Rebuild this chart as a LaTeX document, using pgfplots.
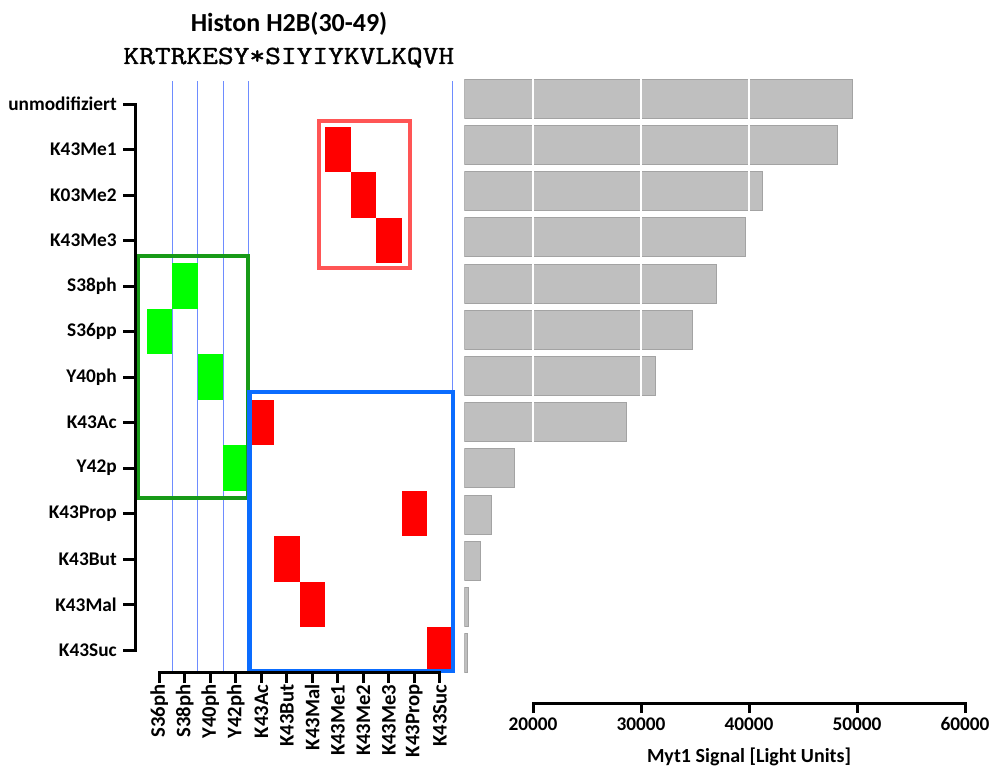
\documentclass[border=0pt]{standalone}
\usepackage{fontspec}
\setmainfont{Carlito}
\newfontfamily\seqfont[FakeBold=1.3]{Latin Modern Mono}
\usepackage{pgfplots}
\pgfplotsset{compat=1.18}
\definecolor{cellred}{RGB}{255,0,0}
\definecolor{cellgreen}{RGB}{0,255,0}
\definecolor{boxred}{RGB}{255,85,85}
\definecolor{boxgreen}{RGB}{24,154,24}
\definecolor{boxblue}{RGB}{10,108,255}
\definecolor{gridblue}{RGB}{110,140,255}
\definecolor{barfill}{RGB}{191,191,191}
\definecolor{baredge}{RGB}{163,163,163}
\newcommand\ylblfont{\fontsize{14.5}{17}\selectfont\bfseries}
\newcommand\xlblfont{\fontsize{15.5}{17}\selectfont\bfseries}

\begin{document}
\begin{tikzpicture}
\useasboundingbox (0pt,0pt) rectangle (744pt,-575.25pt);

\node[font=\fontsize{19.5}{22}\selectfont\bfseries, anchor=base] at (216.75pt,-24pt) {Histon H2B(30-49)};
\node[anchor=base, inner sep=0pt] at (216.6pt,-48pt) {\scalebox{1.17}[1]{\fontsize{19.6}{22}\selectfont\seqfont KRTRKESY*SIYIYKVLKQVH}};

% ---- heatmap cells and boxes
\begin{axis}[at={(100.35pt,-43.875pt)}, anchor=north west,
  scale only axis, width=248.625pt, height=477.75pt,
  xmin=-1, xmax=12, ymin=-1, ymax=13, y dir=reverse,
  hide axis, clip=false]
\addplot[gridblue, line width=0.75pt] coordinates {(0.5,-0.5) (0.5,12.46)};
\addplot[gridblue, line width=0.75pt] coordinates {(1.5,-0.5) (1.5,12.46)};
\addplot[gridblue, line width=0.75pt] coordinates {(2.5,-0.5) (2.5,12.46)};
\addplot[gridblue, line width=0.75pt] coordinates {(3.5,-0.5) (3.5,12.46)};
\addplot[gridblue, line width=0.75pt] coordinates {(11.5,-0.5) (11.5,12.46)};
% cells: column, row
\addplot[fill=cellred, draw=none] coordinates {(6.5,0.5) (7.5,0.5) (7.5,1.5) (6.5,1.5)} -- cycle;   % K43Me1
\addplot[fill=cellred, draw=none] coordinates {(7.5,1.5) (8.5,1.5) (8.5,2.5) (7.5,2.5)} -- cycle;   % K43Me2
\addplot[fill=cellred, draw=none] coordinates {(8.5,2.5) (9.5,2.5) (9.5,3.5) (8.5,3.5)} -- cycle;   % K43Me3
\addplot[fill=cellgreen, draw=none] coordinates {(0.5,3.5) (1.5,3.5) (1.5,4.5) (0.5,4.5)} -- cycle; % S38ph
\addplot[fill=cellgreen, draw=none] coordinates {(-0.5,4.5) (0.5,4.5) (0.5,5.5) (-0.5,5.5)} -- cycle; % S36ph
\addplot[fill=cellgreen, draw=none] coordinates {(1.5,5.5) (2.5,5.5) (2.5,6.5) (1.5,6.5)} -- cycle; % Y40ph
\addplot[fill=cellred, draw=none] coordinates {(3.5,6.5) (4.5,6.5) (4.5,7.5) (3.5,7.5)} -- cycle;   % K43Ac
\addplot[fill=cellgreen, draw=none] coordinates {(2.5,7.5) (3.5,7.5) (3.5,8.5) (2.5,8.5)} -- cycle; % Y42ph
\addplot[fill=cellred, draw=none] coordinates {(9.5,8.5) (10.5,8.5) (10.5,9.5) (9.5,9.5)} -- cycle; % K43Prop
\addplot[fill=cellred, draw=none] coordinates {(4.5,9.5) (5.5,9.5) (5.5,10.5) (4.5,10.5)} -- cycle; % K43But
\addplot[fill=cellred, draw=none] coordinates {(5.5,10.5) (6.5,10.5) (6.5,11.5) (5.5,11.5)} -- cycle; % K43Mal
\addplot[fill=cellred, draw=none] coordinates {(10.5,11.5) (11.5,11.5) (11.5,12.5) (10.5,12.5)} -- cycle; % K43Suc
% group boxes
\addplot[boxred, line width=3pt] coordinates {(6.26,0.37) (9.83,0.37) (9.83,3.6) (6.26,3.6)} -- cycle;
\addplot[boxgreen, line width=3.2pt] coordinates {(-0.85,3.34) (3.48,3.34) (3.48,8.66) (-0.85,8.66)} -- cycle;
\addplot[boxblue, line width=3.3pt] coordinates {(3.54,6.33) (11.52,6.33) (11.52,12.46) (3.54,12.46)} -- cycle;
\end{axis}

% ---- y axis of the matrix
\begin{axis}[at={(101.25pt,-78pt)}, anchor=north west,
  scale only axis, width=20pt, height=409.5pt,
  xmin=0, xmax=1, ymin=0, ymax=12, y dir=reverse,
  axis x line=none, axis y line=left,
  axis line style={-, line width=2.25pt, line cap=rect},
  ytick={0,...,12},
  yticklabels={unmodifiziert,K43Me1,K03Me2,K43Me3,S38ph,S36pp,Y40ph,K43Ac,Y42p,K43Prop,K43But,K43Mal,K43Suc},
  tick align=outside, major tick length=9pt,
  every tick/.style={black, line width=2.25pt},
  yticklabel style={font=\ylblfont, inner sep=0pt, xshift=-4.5pt}]
\addplot[draw=none] coordinates {(0,0)};
\end{axis}

% ---- x axis of the matrix
\begin{axis}[at={(119.475pt,-504pt)}, anchor=south west,
  scale only axis, width=210.375pt, height=20pt,
  xmin=0, xmax=11, ymin=0, ymax=1,
  axis y line=none, axis x line=bottom,
  axis line style={-, line width=2.25pt, line cap=rect},
  xtick={0,...,11},
  xticklabels={S36ph,S38ph,Y40ph,Y42ph,K43Ac,K43But,K43Mal,K43Me1,K43Me2,K43Me3,K43Prop,K43Suc},
  tick align=outside, major tick length=8.25pt,
  every tick/.style={black, line width=2.25pt},
  xticklabel style={font=\xlblfont, rotate=90, anchor=east, inner sep=1pt}]
\addplot[draw=none] coordinates {(0,0)};
\end{axis}

% ---- bars
\begin{axis}[at={(348.225pt,-56.7pt)}, anchor=north west,
  scale only axis, width=375.525pt, height=450.45pt,
  xmin=13640, xmax=60000, ymin=-0.5, ymax=12.5, y dir=reverse,
  xbar, bar width=29.25pt,
  axis line style={draw=none},
  xtick={20000,30000,40000}, xticklabels={}, ytick=\empty,
  scaled x ticks=false,
  major tick length=0pt,
  xmajorgrids, grid style={white, line width=1.5pt},
  axis on top]
\addplot[fill=barfill, draw=baredge, line width=0.75pt] coordinates {
(49600,0) (48180,1) (41230,2) (39690,3) (37010,4) (34790,5) (31300,6)
(28700,7) (18270,8) (16180,9) (15160,10) (14070,11) (13980,12)};
\end{axis}

% ---- signal scale
\begin{axis}[at={(399.75pt,-527.25pt)}, anchor=south west,
  scale only axis, width=324pt, height=20pt,
  xmin=20000, xmax=60000, ymin=0, ymax=1,
  axis y line=none, axis x line=bottom,
  axis line style={-, line width=2.25pt, line cap=rect},
  xtick={20000,30000,...,60000}, scaled x ticks=false,
  /pgf/number format/assume math mode=true,
  xticklabel style={font=\ylblfont, /pgf/number format/1000 sep={}},
  tick align=outside, major tick length=7.5pt,
  every tick/.style={black, line width=2.25pt},
  xlabel={Myt1 Signal [Light Units]},
  xlabel style={font=\fontsize{15}{17}\selectfont\bfseries, yshift=-5.5pt}]
\addplot[draw=none] coordinates {(30000,0)};
\end{axis}
\end{tikzpicture}
\end{document}
